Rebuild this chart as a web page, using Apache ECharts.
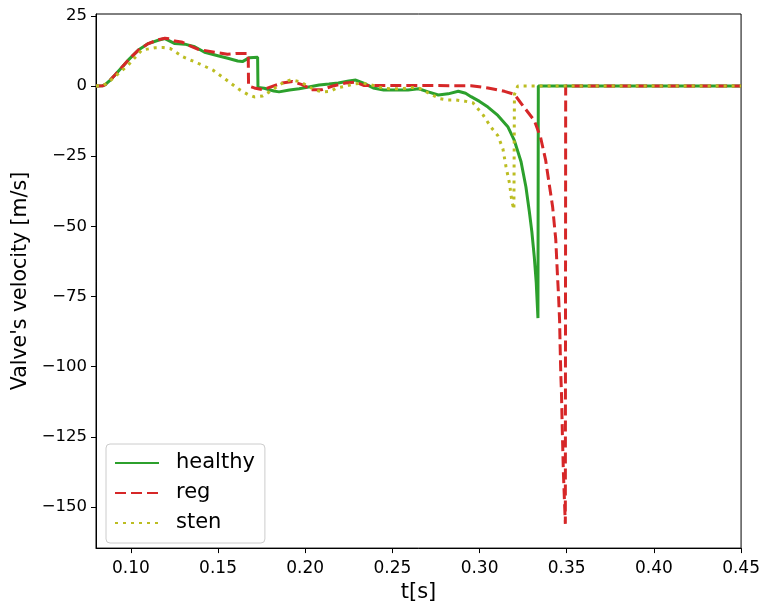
<!DOCTYPE html>
<html>
<head>
<meta charset="utf-8">
<script src="https://cdn.jsdelivr.net/npm/echarts@6/dist/echarts.min.js"></script>
<style>
html,body{margin:0;padding:0;background:#fff;}
#chart{width:763px;height:608px;}
</style>
</head>
<body>
<div id="chart"></div>
<script>
const seriesNames = ['healthy', 'reg', 'sten'];

const tHealthy = [0.080,0.084,0.0853,0.0880,0.0910,0.0950,0.0986,0.1043,0.1100,0.1157,0.1195,0.1252,0.1309,0.1366,0.1423,0.1499,0.1556,0.1613,0.1640,0.1680,0.1727,0.1729,0.1765,0.1820,0.1850,0.1910,0.1965,0.2020,0.2080,0.2136,0.2190,0.2250,0.2290,0.2335,0.2390,0.2450,0.2535,0.2590,0.2650,0.2706,0.2763,0.2820,0.2878,0.2920,0.2951,0.3000,0.3048,0.3105,0.3162,0.3200,0.3238,0.3266,0.3286,0.3300,0.3314,0.3325,0.3335,0.3337,0.4500];
const vHealthy = [0,0.1,0.5,2,4,6.8,9.3,12.8,15.1,16.3,16.9,15.1,14.9,14,12,10.8,9.9,8.9,8.7,10.1,10.2,-0.5,-0.8,-1.8,-2.1,-1.4,-1,-0.35,0.35,0.7,1.05,1.8,2.1,1.05,-0.7,-1.4,-1.4,-1.4,-1,-2.1,-3.2,-2.8,-1.9,-2.6,-3.8,-5.5,-7.5,-10.5,-14.5,-19.5,-27,-36,-45,-52,-61,-70,-82.7,0,0];

const tReg = [0.080,0.084,0.0853,0.0880,0.0910,0.0950,0.0986,0.1043,0.1100,0.1157,0.1195,0.1224,0.1252,0.1290,0.1383,0.1480,0.1554,0.1604,0.1661,0.1673,0.1675,0.1708,0.1756,0.1868,0.1927,0.1982,0.2039,0.2096,0.2153,0.2231,0.2288,0.2335,0.2951,0.3048,0.3143,0.3200,0.3257,0.3314,0.3350,0.3379,0.3390,0.3419,0.3437,0.3447,0.3453,0.3459,0.3462,0.3466,0.3470,0.3475,0.3481,0.3492,0.3494,0.4500];
const vReg = [0,0.1,0.5,2,4,6.8,9.3,12.8,15.1,16.5,17,16.8,16,15.7,13.1,12,11.3,11.6,11.6,11.6,0,-0.7,-1.3,1.05,1.6,0.5,-1.3,-1.3,-0.1,1.05,1.4,0.2,0.1,-0.7,-1.9,-3,-7.7,-12.3,-18.3,-26.4,-31,-43,-54.6,-67.6,-74.6,-83.4,-92.2,-102.8,-109.8,-123.9,-138,-156,0,0];

const tSten = [0.080,0.084,0.0880,0.0920,0.0986,0.1062,0.1138,0.1185,0.1224,0.1299,0.1385,0.1470,0.1547,0.1623,0.1670,0.1708,0.1756,0.1794,0.1841,0.1879,0.1917,0.1965,0.2010,0.2050,0.2098,0.2145,0.2181,0.2231,0.2278,0.2324,0.2374,0.2421,0.2459,0.2516,0.2563,0.2609,0.2659,0.2706,0.2773,0.2820,0.2866,0.2915,0.2962,0.3020,0.3067,0.3105,0.3134,0.3152,0.3172,0.3185,0.3197,0.3200,0.3219,0.4500];
const vSten = [0,0.1,1.8,4,7.5,12.8,13.6,13.7,13.4,10.4,8.1,5.7,2.2,-1.3,-3,-3.9,-3.6,-2.1,-0.1,1.4,2.2,1.6,0.2,-1.3,-2.1,-1.9,-0.7,-0.1,0.7,1.05,0.5,-0.35,-0.9,-1,-0.9,-0.5,-0.9,-2.5,-4.5,-5,-5,-5.4,-6,-10.3,-14.8,-17.7,-22.4,-28.9,-34.7,-41,-44,-3,0,0];

const xTicks = [0.10,0.15,0.20,0.25,0.30,0.35,0.40,0.45];
const yTicks = [-150,-125,-100,-75,-50,-25,0,25];

const colors = ['#2ca02c', '#d62728', '#bcbd22'];
const dashes = ['solid', [11, 5], [3, 5]];

function pairs(ts, vs) { return ts.map((t, i) => [t, vs[i]]); }
const dataSets = [pairs(tHealthy, vHealthy), pairs(tReg, vReg), pairs(tSten, vSten)];

const FONT = 'DejaVu Sans';
const chart = echarts.init(document.getElementById('chart'), null, {renderer: 'canvas'});
chart.setOption({
  animation: false,
  backgroundColor: '#fff',
  grid: {left: 96, right: 19, top: 14, bottom: 53, show: true, borderColor: '#000', borderWidth: 1, backgroundColor: 'transparent'},
  xAxis: {
    type: 'value', min: 0.08, max: 0.45,
    name: 't[s]', nameLocation: 'middle', nameGap: 27,
    nameTextStyle: {fontFamily: FONT, fontSize: 21, color: '#000'},
    axisLine: {show: true, onZero: false, lineStyle: {color: '#000', width: 1}},
    axisTick: {show: true, length: 5, lineStyle: {color: '#000'}, customValues: xTicks},
    axisLabel: {fontFamily: FONT, fontSize: 17, color: '#000', margin: 12, customValues: xTicks,
      formatter: v => v.toFixed(2)},
    splitLine: {show: false}
  },
  yAxis: {
    type: 'value', min: -164.65, max: 25.65,
    name: "Valve's velocity [m/s]", nameLocation: 'middle', nameGap: 53,
    nameTextStyle: {fontFamily: FONT, fontSize: 20.5, color: '#000'},
    axisLine: {show: true, onZero: false, lineStyle: {color: '#000', width: 1}},
    axisTick: {show: true, length: 5, lineStyle: {color: '#000'}, customValues: yTicks},
    axisLabel: {fontFamily: FONT, fontSize: 16.5, color: '#000', margin: 9, customValues: yTicks,
      formatter: v => String(v).replace('-', '\u2212')},
    splitLine: {show: false}
  },
  legend: {
    orient: 'vertical', left: 106, top: 444,
    padding: [8, 10, 9, 8], itemGap: 8, itemWidth: 44, itemHeight: 14,
    backgroundColor: 'rgba(255,255,255,0.8)', borderColor: '#cccccc', borderWidth: 1, borderRadius: 4,
    itemStyle: {opacity: 0, borderWidth: 0},
    textStyle: {fontFamily: FONT, fontSize: 21, color: '#000', lineHeight: 22, padding: [0, 0, 0, 12]},
    data: seriesNames
  },
  series: seriesNames.map((name, i) => ({
    name: name, type: 'line', data: dataSets[i], showSymbol: false, symbol: 'none',
    lineStyle: {color: colors[i], width: 3, type: dashes[i], cap: 'butt'},
    itemStyle: {color: colors[i]},
    z: 2 + i
  }))
});
</script>
</body>
</html>
